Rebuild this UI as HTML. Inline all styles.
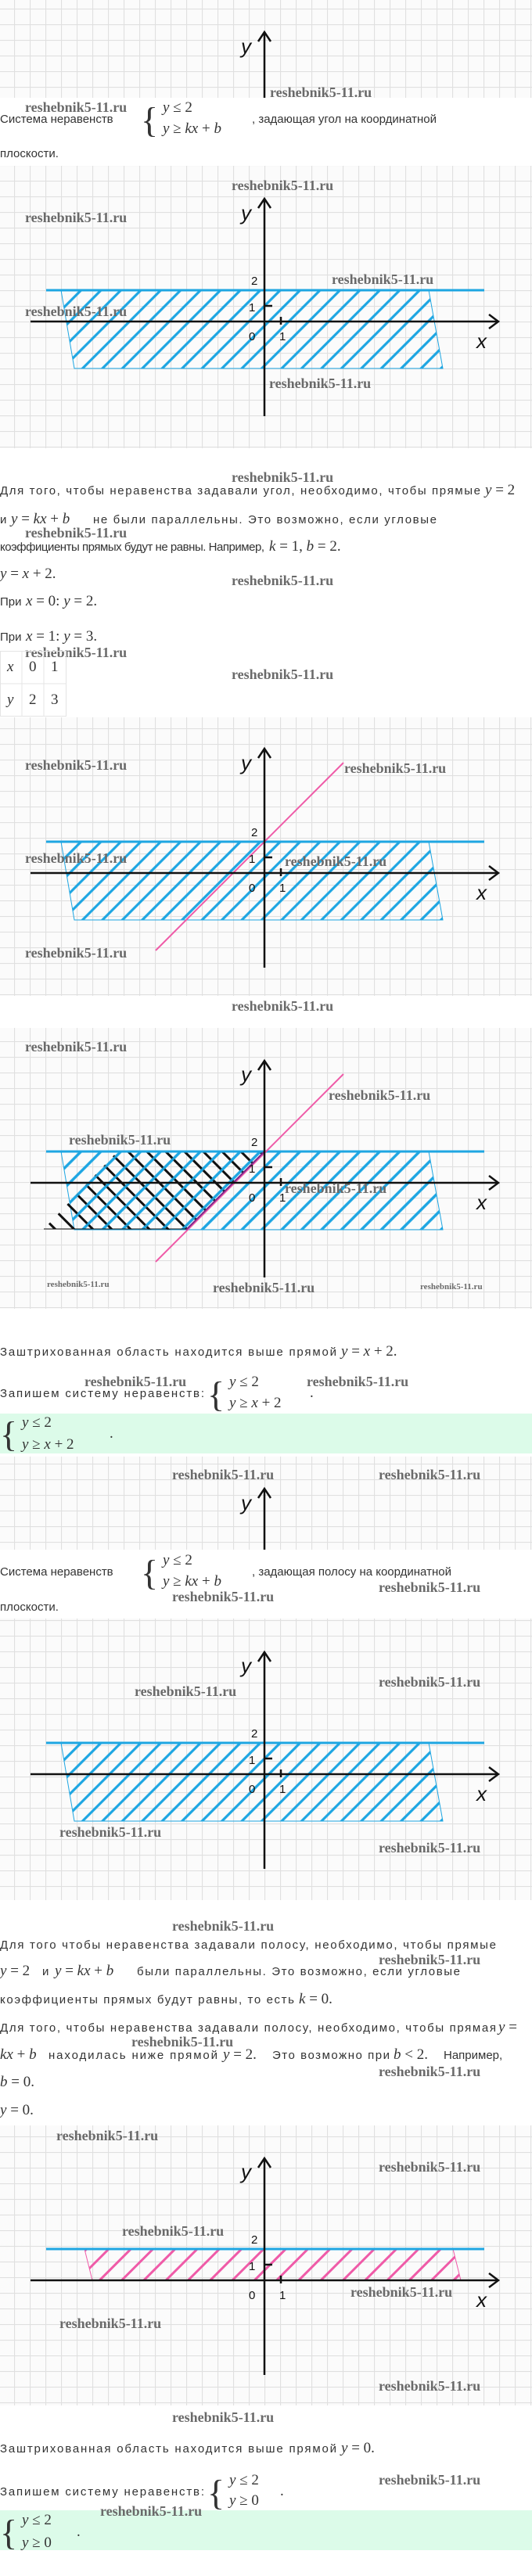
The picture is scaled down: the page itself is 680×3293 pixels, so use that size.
<!DOCTYPE html>
<html><head><meta charset="utf-8">
<style>
html,body{margin:0;padding:0;background:#fff}
svg{display:block}
.t{font-family:"Liberation Sans",sans-serif;font-size:15px;fill:#333}
.m{font-family:"Liberation Serif",serif;font-size:19px;fill:#333}
.i{font-style:italic}
.w{font-family:"Liberation Serif",serif;font-weight:bold;font-size:18px;fill:#6a6a6a}
.ws{font-family:"Liberation Serif",serif;font-weight:bold;font-size:11px;fill:#6a6a6a}
.lb{font-family:"Liberation Sans",sans-serif;font-size:15px;fill:#111}
.ax{font-family:"Liberation Sans",sans-serif;font-style:italic;font-size:26px;fill:#111}
.br{font-family:"Liberation Serif",serif;font-size:46px;fill:#333}
</style></head><body>
<svg width="680" height="3293" viewBox="0 0 680 3293" xmlns="http://www.w3.org/2000/svg">
<defs>
<pattern id="grid" width="20" height="20" patternUnits="userSpaceOnUse" x="18" y="11"><rect width="20" height="20" fill="#fbfbfb"/><path d="M0 0.5H20M0.5 0V20" stroke="#e0e0e0" stroke-width="1.2" fill="none"/></pattern>
<pattern id="hb" width="18" height="18" patternUnits="userSpaceOnUse" patternTransform="rotate(45)"><line x1="9" y1="0" x2="9" y2="18" stroke="#1ea6e2" stroke-width="3.2"/></pattern>
<pattern id="hp" width="20" height="20" patternUnits="userSpaceOnUse" patternTransform="rotate(45)"><line x1="10" y1="0" x2="10" y2="20" stroke="#ef5ba8" stroke-width="3"/></pattern>
<pattern id="hk" width="17" height="17" patternUnits="userSpaceOnUse" patternTransform="rotate(-45)"><line x1="8" y1="0" x2="8" y2="17" stroke="#111" stroke-width="3"/></pattern>
</defs>

<rect x="0" y="0" width="680" height="125" fill="url(#grid)"/>
<rect x="0" y="212" width="680" height="361" fill="url(#grid)"/>
<rect x="0" y="917" width="680" height="356" fill="url(#grid)"/>
<rect x="0" y="1314" width="680" height="359" fill="url(#grid)"/>
<rect x="0" y="1862" width="680" height="119" fill="url(#grid)"/>
<rect x="0" y="2069" width="680" height="360" fill="url(#grid)"/>
<rect x="0" y="2717" width="680" height="358" fill="url(#grid)"/>

<g stroke="#111" stroke-width="2.5" fill="none"><line x1="338" y1="41" x2="338" y2="125"/><path d="M330 53 L338 41 L346 53"/></g>
<text class="ax" x="308" y="68">y</text>
<text class="w" x="345" y="124">reshebnik5-11.ru</text>

<text class="w" x="32" y="143">reshebnik5-11.ru</text>
<text class="t" x="0" y="157">Система неравенств</text>
<text class="br" x="180" y="169">{</text>
<text class="m" x="208" y="143"><tspan class="i">y</tspan> ≤ 2</text>
<text class="m" x="208" y="170"><tspan class="i">y</tspan> ≥ <tspan class="i">kx</tspan> + <tspan class="i">b</tspan></text>
<text class="t" x="322" y="157">, задающая угол на координатной</text>
<text class="t" x="0" y="201">плоскости.</text>

<g transform="translate(0,411)">
<polygon points="78,-40 548,-40 566,60 95,60" fill="url(#hb)" stroke="#1ea6e2" stroke-width="1"/>
<line x1="59" y1="-40" x2="619" y2="-40" stroke="#1ea6e2" stroke-width="3"/>
<g stroke="#111" stroke-width="2.5" fill="none"><line x1="39" y1="0" x2="637" y2="0"/><path d="M625 -9 L637 0 L625 9"/><line x1="338" y1="-157" x2="338" y2="121"/><path d="M330 -145 L338 -157 L346 -145"/><line x1="338" y1="-20" x2="348" y2="-20"/><line x1="359" y1="-6" x2="359" y2="4"/></g>
<text class="ax" x="308" y="-130">y</text><text class="lb" x="321" y="-47">2</text><text class="lb" x="318" y="-13">1</text><text class="lb" x="318" y="24">0</text><text class="lb" x="357" y="24">1</text><text class="ax" x="609" y="34">x</text>
</g>
<text class="w" x="296" y="243">reshebnik5-11.ru</text>
<text class="w" x="32" y="284">reshebnik5-11.ru</text>
<text class="w" x="424" y="363">reshebnik5-11.ru</text>
<text class="w" x="32" y="404">reshebnik5-11.ru</text>
<text class="w" x="344" y="496">reshebnik5-11.ru</text>

<text class="w" x="296" y="616">reshebnik5-11.ru</text>
<text class="t" x="0" y="632" textLength="614">Для того, чтобы неравенства задавали угол, необходимо, чтобы прямые</text>
<text class="m" x="620" y="632"><tspan class="i">y</tspan> = 2</text>
<text class="t" x="0" y="669">и</text>
<text class="m" x="14" y="669"><tspan class="i">y</tspan> = <tspan class="i">kx</tspan> + <tspan class="i">b</tspan></text>
<text class="t" x="119" y="669" textLength="439">не были параллельны. Это возможно, если угловые</text>
<text class="w" x="32" y="687">reshebnik5-11.ru</text>
<text class="t" x="0" y="704" textLength="338">коэффициенты прямых будут не равны. Например,</text>
<text class="m" x="344" y="704"><tspan class="i">k</tspan> = 1,  <tspan class="i">b</tspan> = 2.</text>
<text class="m" x="0" y="739"><tspan class="i">y</tspan> = <tspan class="i">x</tspan> + 2.</text>
<text class="w" x="296" y="748">reshebnik5-11.ru</text>
<text class="t" x="0" y="774">При</text>
<text class="m" x="33" y="774"><tspan class="i">x</tspan> = 0: <tspan class="i">y</tspan> = 2.</text>
<text class="t" x="0" y="819">При</text>
<text class="m" x="33" y="819"><tspan class="i">x</tspan> = 1: <tspan class="i">y</tspan> = 3.</text>
<text class="w" x="32" y="840">reshebnik5-11.ru</text>
<g stroke="#e4e4e4" stroke-width="1" fill="none"><rect x="0.5" y="832.5" width="84" height="83"/><line x1="28" y1="832" x2="28" y2="915"/><line x1="56" y1="832" x2="56" y2="915"/><line x1="0" y1="874" x2="84" y2="874"/></g>
<text class="m" x="9" y="858"><tspan class="i">x</tspan></text><text class="m" x="37" y="858">0</text><text class="m" x="65" y="858">1</text>
<text class="m" x="9" y="900"><tspan class="i">y</tspan></text><text class="m" x="37" y="900">2</text><text class="m" x="65" y="900">3</text>
<text class="w" x="296" y="868">reshebnik5-11.ru</text>

<g transform="translate(0,1116)">
<polygon points="78,-40 548,-40 566,60 95,60" fill="url(#hb)" stroke="#1ea6e2" stroke-width="1"/>
<line x1="59" y1="-40" x2="619" y2="-40" stroke="#1ea6e2" stroke-width="3"/>
<line x1="199" y1="99" x2="439" y2="-141" stroke="#ef5ba8" stroke-width="2"/>
<g stroke="#111" stroke-width="2.5" fill="none"><line x1="39" y1="0" x2="637" y2="0"/><path d="M625 -9 L637 0 L625 9"/><line x1="338" y1="-159" x2="338" y2="121"/><path d="M330 -147 L338 -159 L346 -147"/><line x1="338" y1="-20" x2="348" y2="-20"/><line x1="359" y1="-6" x2="359" y2="4"/></g>
<text class="ax" x="308" y="-132">y</text><text class="lb" x="321" y="-47">2</text><text class="lb" x="318" y="-13">1</text><text class="lb" x="318" y="24">0</text><text class="lb" x="357" y="24">1</text><text class="ax" x="609" y="34">x</text>
</g>
<text class="w" x="32" y="984">reshebnik5-11.ru</text>
<text class="w" x="440" y="988">reshebnik5-11.ru</text>
<text class="w" x="32" y="1103">reshebnik5-11.ru</text>
<text class="w" x="364" y="1107">reshebnik5-11.ru</text>
<text class="w" x="32" y="1224">reshebnik5-11.ru</text>
<text class="w" x="296" y="1292">reshebnik5-11.ru</text>

<g transform="translate(0,1512)">
<polygon points="78,-40 548,-40 566,60 95,60" fill="url(#hb)" stroke="#1ea6e2" stroke-width="1"/>
<polygon points="150,-40 338,-40 238,60 56,59" fill="url(#hk)"/>
<polygon points="78,-40 548,-40 566,60 95,60" fill="url(#hb)" opacity="0.9"/>
<line x1="59" y1="-40" x2="619" y2="-40" stroke="#1ea6e2" stroke-width="3"/>
<line x1="56" y1="59" x2="238" y2="59" stroke="#111" stroke-width="1"/>
<line x1="199" y1="101" x2="439" y2="-139" stroke="#ef5ba8" stroke-width="2"/>
<line x1="238" y1="60" x2="338" y2="-40" stroke="#7a2a8a" stroke-width="2"/>
<g stroke="#111" stroke-width="2.5" fill="none"><line x1="39" y1="0" x2="637" y2="0"/><path d="M625 -9 L637 0 L625 9"/><line x1="338" y1="-156" x2="338" y2="121"/><path d="M330 -144 L338 -156 L346 -144"/><line x1="338" y1="-20" x2="348" y2="-20"/><line x1="359" y1="-6" x2="359" y2="4"/></g>
<text class="ax" x="308" y="-130">y</text><text class="lb" x="321" y="-47">2</text><text class="lb" x="318" y="-13">1</text><text class="lb" x="318" y="24">0</text><text class="lb" x="357" y="24">1</text><text class="ax" x="609" y="34">x</text>
</g>
<text class="w" x="32" y="1344">reshebnik5-11.ru</text>
<text class="w" x="420" y="1406">reshebnik5-11.ru</text>
<text class="w" x="88" y="1463">reshebnik5-11.ru</text>
<text class="w" x="364" y="1525">reshebnik5-11.ru</text>
<text class="ws" x="60" y="1645">reshebnik5-11.ru</text>
<text class="w" x="272" y="1652">reshebnik5-11.ru</text>
<text class="ws" x="537" y="1648">reshebnik5-11.ru</text>

<text class="t" x="0" y="1733" textLength="430">Заштрихованная область находится выше прямой</text>
<text class="m" x="436" y="1733"><tspan class="i">y</tspan> = <tspan class="i">x</tspan> + 2.</text>
<text class="w" x="108" y="1772">reshebnik5-11.ru</text>
<text class="w" x="392" y="1772">reshebnik5-11.ru</text>
<text class="t" x="0" y="1786" textLength="261">Запишем систему неравенств:</text>
<text class="br" x="265" y="1798">{</text>
<text class="m" x="293" y="1772"><tspan class="i">y</tspan> ≤ 2</text>
<text class="m" x="293" y="1799"><tspan class="i">y</tspan> ≥ <tspan class="i">x</tspan> + 2</text>
<text class="m" x="396" y="1786">.</text>
<rect x="0" y="1807" width="680" height="51" fill="#dcfbe9"/>
<text class="br" x="0" y="1849">{</text>
<text class="m" x="28" y="1824"><tspan class="i">y</tspan> ≤ 2</text>
<text class="m" x="28" y="1852"><tspan class="i">y</tspan> ≥ <tspan class="i">x</tspan> + 2</text>
<text class="m" x="140" y="1838">.</text>

<g stroke="#111" stroke-width="2.5" fill="none"><line x1="338" y1="1903" x2="338" y2="1981"/><path d="M330 1915 L338 1903 L346 1915"/></g>
<text class="ax" x="308" y="1930">y</text>
<text class="w" x="220" y="1891">reshebnik5-11.ru</text>
<text class="w" x="484" y="1891">reshebnik5-11.ru</text>

<text class="t" x="0" y="2014">Система неравенств</text>
<text class="br" x="180" y="2026">{</text>
<text class="m" x="208" y="2000"><tspan class="i">y</tspan> ≤ 2</text>
<text class="m" x="208" y="2027"><tspan class="i">y</tspan> ≥ <tspan class="i">kx</tspan> + <tspan class="i">b</tspan></text>
<text class="t" x="322" y="2014">, задающая полосу на координатной</text>
<text class="w" x="484" y="2035">reshebnik5-11.ru</text>
<text class="w" x="220" y="2047">reshebnik5-11.ru</text>
<text class="t" x="0" y="2059">плоскости.</text>

<g transform="translate(0,2268)">
<polygon points="78,-40 548,-40 566,60 95,60" fill="url(#hb)" stroke="#1ea6e2" stroke-width="1"/>
<line x1="59" y1="-40" x2="619" y2="-40" stroke="#1ea6e2" stroke-width="3"/>
<g stroke="#111" stroke-width="2.5" fill="none"><line x1="39" y1="0" x2="637" y2="0"/><path d="M625 -9 L637 0 L625 9"/><line x1="338" y1="-156" x2="338" y2="121"/><path d="M330 -144 L338 -156 L346 -144"/><line x1="338" y1="-20" x2="348" y2="-20"/><line x1="359" y1="-6" x2="359" y2="4"/></g>
<text class="ax" x="308" y="-130">y</text><text class="lb" x="321" y="-47">2</text><text class="lb" x="318" y="-13">1</text><text class="lb" x="318" y="24">0</text><text class="lb" x="357" y="24">1</text><text class="ax" x="609" y="34">x</text>
</g>
<text class="w" x="172" y="2168">reshebnik5-11.ru</text>
<text class="w" x="484" y="2156">reshebnik5-11.ru</text>
<text class="w" x="76" y="2348">reshebnik5-11.ru</text>
<text class="w" x="484" y="2368">reshebnik5-11.ru</text>
<text class="w" x="220" y="2468">reshebnik5-11.ru</text>

<text class="t" x="0" y="2491" textLength="634">Для того чтобы неравенства задавали полосу, необходимо, чтобы прямые</text>
<text class="w" x="484" y="2511">reshebnik5-11.ru</text>
<text class="m" x="0" y="2525"><tspan class="i">y</tspan> = 2</text>
<text class="t" x="54" y="2525">и</text>
<text class="m" x="70" y="2525"><tspan class="i">y</tspan> = <tspan class="i">kx</tspan> + <tspan class="i">b</tspan></text>
<text class="t" x="175" y="2525" textLength="413">были параллельны. Это возможно, если угловые</text>
<text class="t" x="0" y="2561" textLength="376">коэффициенты прямых будут равны, то есть</text>
<text class="m" x="382" y="2561"><tspan class="i">k</tspan> = 0.</text>
<text class="t" x="0" y="2597" textLength="634">Для того, чтобы неравенства задавали полосу, необходимо, чтобы прямая</text>
<text class="m" x="637" y="2597"><tspan class="i">y</tspan> =</text>
<text class="w" x="168" y="2616">reshebnik5-11.ru</text>
<text class="m" x="0" y="2632"><tspan class="i">kx</tspan> + <tspan class="i">b</tspan></text>
<text class="t" x="62" y="2632" textLength="216">находилась ниже прямой</text>
<text class="m" x="285" y="2632"><tspan class="i">y</tspan> = 2.</text>
<text class="t" x="348" y="2632" textLength="150">Это возможно при</text>
<text class="m" x="503" y="2632"><tspan class="i">b</tspan> &lt; 2.</text>
<text class="t" x="567" y="2632">Например,</text>
<text class="w" x="484" y="2654">reshebnik5-11.ru</text>
<text class="m" x="0" y="2667"><tspan class="i">b</tspan> = 0.</text>
<text class="m" x="0" y="2703"><tspan class="i">y</tspan> = 0.</text>

<g transform="translate(0,2915)">
<polygon points="108,-40 579,-40 589,0 118,0" fill="url(#hp)" stroke="#ef5ba8" stroke-width="1"/>
<line x1="59" y1="-40" x2="619" y2="-40" stroke="#1ea6e2" stroke-width="3"/>
<g stroke="#111" stroke-width="2.5" fill="none"><line x1="39" y1="0" x2="637" y2="0"/><path d="M625 -9 L637 0 L625 9"/><line x1="338" y1="-156" x2="338" y2="121"/><path d="M330 -144 L338 -156 L346 -144"/><line x1="338" y1="-20" x2="348" y2="-20"/><line x1="359" y1="-6" x2="359" y2="4"/></g>
<text class="ax" x="308" y="-130">y</text><text class="lb" x="321" y="-47">2</text><text class="lb" x="318" y="-13">1</text><text class="lb" x="318" y="24">0</text><text class="lb" x="357" y="24">1</text><text class="ax" x="609" y="34">x</text>
</g>
<text class="w" x="72" y="2736">reshebnik5-11.ru</text>
<text class="w" x="484" y="2776">reshebnik5-11.ru</text>
<text class="w" x="156" y="2858">reshebnik5-11.ru</text>
<text class="w" x="448" y="2936">reshebnik5-11.ru</text>
<text class="w" x="76" y="2976">reshebnik5-11.ru</text>
<text class="w" x="484" y="3056">reshebnik5-11.ru</text>
<text class="w" x="220" y="3096">reshebnik5-11.ru</text>

<text class="t" x="0" y="3135" textLength="430">Заштрихованная область находится выше прямой</text>
<text class="m" x="436" y="3135"><tspan class="i">y</tspan> = 0.</text>
<text class="w" x="484" y="3176">reshebnik5-11.ru</text>
<text class="t" x="0" y="3190" textLength="261">Запишем систему неравенств:</text>
<text class="br" x="265" y="3202">{</text>
<text class="m" x="293" y="3176"><tspan class="i">y</tspan> ≤ 2</text>
<text class="m" x="293" y="3202"><tspan class="i">y</tspan> ≥ 0</text>
<text class="m" x="358" y="3190">.</text>
<rect x="0" y="3209" width="680" height="51" fill="#dcfbe9"/>
<text class="br" x="0" y="3253">{</text>
<text class="m" x="28" y="3227"><tspan class="i">y</tspan> ≤ 2</text>
<text class="m" x="28" y="3256"><tspan class="i">y</tspan> ≥ 0</text>
<text class="m" x="98" y="3242">.</text>
<text class="w" x="128" y="3216">reshebnik5-11.ru</text>
</svg>
</body></html>
